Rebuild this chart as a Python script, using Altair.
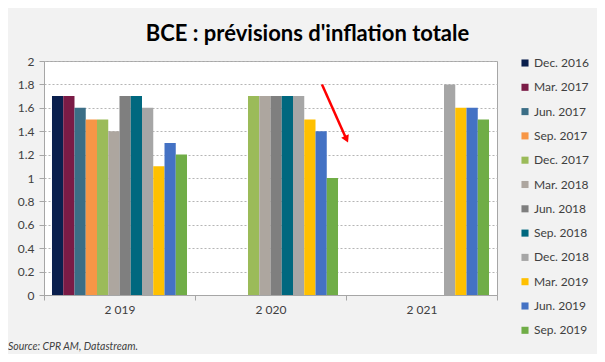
import altair as alt
import pandas as pd

years = ["2 019", "2 020", "2 021"]
series = ["Dec. 2016", "Mar. 2017", "Jun. 2017", "Sep. 2017", "Dec. 2017", "Mar. 2018",
          "Jun. 2018", "Sep. 2018", "Dec. 2018", "Mar. 2019", "Jun. 2019", "Sep. 2019"]
colors = ["#0A1F4D", "#7A1B46", "#3B6E86", "#F79646", "#9BBB59", "#ADA69F",
          "#7F7F7F", "#00687F", "#A6A6A6", "#FFC000", "#4472C4", "#70AD47"]
v2019 = [1.7, 1.7, 1.6, 1.5, 1.5, 1.4, 1.7, 1.7, 1.6, 1.1, 1.3, 1.2]
v2020 = [None, None, None, None, 1.7, 1.7, 1.7, 1.7, 1.7, 1.5, 1.4, 1.0]
v2021 = [None, None, None, None, None, None, None, None, 1.8, 1.6, 1.6, 1.5]
y_ticks = [0, 0.2, 0.4, 0.6, 0.8, 1.0, 1.2, 1.4, 1.6, 1.8, 2.0]

# annotation arrow (y in data units)
arrow_y = [1.8, 1.34]
arrow_tip_y = [1.34]

rows = []
for yr, vals in zip(years, [v2019, v2020, v2021]):
    for s, v in zip(series, vals):
        if v is not None:
            rows.append({"year": yr, "series": s, "value": v})
df = pd.DataFrame(rows)

FONT = "Lato"
TXT = "#404040"

bars = alt.Chart(df).mark_bar().encode(
    x=alt.X("year:N", sort=years,
            scale=alt.Scale(domain=years, paddingInner=0, paddingOuter=0),
            axis=alt.Axis(title=None, labelAngle=0, tickBand="extent", tickSize=5,
                          labelPadding=4, grid=False, domainColor="#A6A6A6",
                          tickColor="#A6A6A6", labelFont=FONT, labelFontSize=12,
                          labelColor=TXT)),
    xOffset=alt.XOffset("series:N",
                        scale=alt.Scale(domain=series, paddingInner=0, paddingOuter=0.71)),
    y=alt.Y("value:Q", scale=alt.Scale(domain=[0, 2], nice=False),
            axis=alt.Axis(title=None, values=y_ticks, tickCount=20, labelOverlap=False,
                          format=".1~f", tickSize=5,
                          labelPadding=5, grid=True, gridDash=[2, 2], gridColor="#B5B5B5",
                          domainColor="#A6A6A6", tickColor="#A6A6A6", labelFont=FONT,
                          labelFontSize=12, labelColor=TXT)),
    color=alt.Color("series:N", scale=alt.Scale(domain=series, range=colors),
                    legend=alt.Legend(title=None, orient="none", legendX=475, legendY=-4,
                                      symbolType="square", symbolSize=50,
                                      symbolStrokeWidth=0, labelFont=FONT,
                                      labelFontSize=12, labelColor=TXT, labelOffset=3,
                                      rowPadding=12.3, padding=0)),
)

arrow_df = pd.DataFrame({"y": [arrow_y[0]], "y2": [arrow_y[1]]})
arrow_line = alt.Chart(arrow_df).mark_rule(color="#FF0000", strokeWidth=2.5).encode(
    x=alt.value(278), x2=alt.value(302), y="y:Q", y2="y2:Q"
)
head_df = pd.DataFrame({"y": arrow_tip_y})
arrow_head = alt.Chart(head_df).mark_point(
    shape="triangle", filled=True, color="#FF0000", size=70, angle=155, opacity=1
).encode(x=alt.value(302), y="y:Q")

source = alt.Chart(pd.DataFrame({"t": ["Source: CPR AM, Datastream."]})).mark_text(
    align="left", baseline="middle", font=FONT, fontSize=10.5, fontStyle="italic", color=TXT
).encode(x=alt.value(-36), y=alt.value(286), text="t:N")

chart = alt.layer(bars, arrow_line, arrow_head, source).properties(
    width=453, height=234,
    padding={"left": 36, "top": 53, "right": 100, "bottom": 59},
    autosize=alt.AutoSizeParams(type="none"),
    title=alt.Title("BCE : prévisions d'inflation totale", font=FONT, fontSize=22,
                    fontWeight="bold", anchor="middle", dx=37, offset=9, color="#000000"),
).configure(background="#F2F2F2").configure_view(stroke="#A6A6A6", fill="white")

chart.save("out.html", embed_options={"renderer": "svg", "actions": False})
